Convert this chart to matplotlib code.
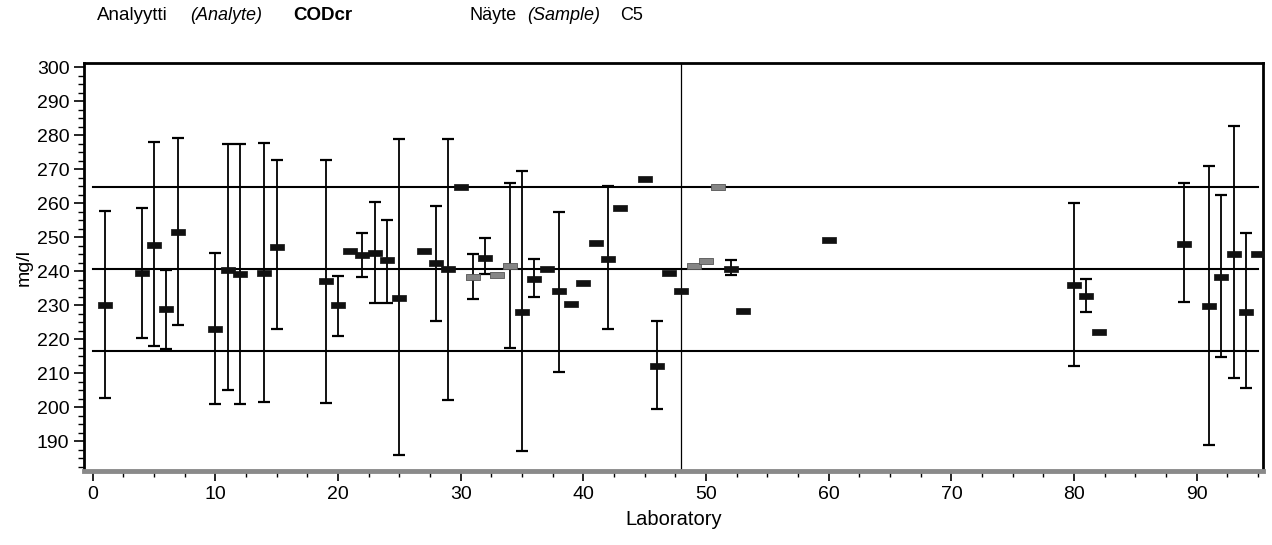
import numpy as np
import matplotlib
matplotlib.use("Agg")
import matplotlib.pyplot as plt
from matplotlib.ticker import MultipleLocator

plt.rcParams.update({"font.family": ["Liberation Sans", "DejaVu Sans"], "font.size": 14})

NAN = np.nan
# laboratory results (mg/l); NaN = no uncertainty bar
labs = [1, 4, 5, 6, 7, 10, 11, 12, 14, 15, 19, 20, 21, 22, 23, 24, 25, 27, 28, 29,
        30, 31, 32, 33, 34, 35, 36, 37, 38, 39, 40, 41, 42, 43, 45, 46, 47, 48, 49, 50,
        51, 52, 53, 60, 80, 81, 82, 89, 91, 92, 93, 94, 95]
values = [229.9, 239.3, 247.8, 228.9, 251.4, 222.9, 240.4, 239.0, 239.4, 247.2,
          237.0, 229.9, 245.9, 244.6, 245.3, 243.2, 232.2, 245.9, 242.5, 240.5,
          264.7, 238.3, 243.8, 238.9, 241.4, 228.1, 237.6, 240.6, 234.0, 230.4,
          236.5, 248.3, 243.5, 258.5, 267.0, 212.0, 239.3, 234.2, 241.6, 243.0,
          264.8, 240.5, 228.3, 249.2, 235.8, 232.8, 222.0, 248.1, 229.7, 238.4,
          245.1, 227.9, 245.1]
err_low = [202.6, 220.4, 218.1, 217.0, 224.2, 200.8, 205.0, 200.8, 201.4, 223.0,
           201.3, 221.0, NAN, 238.3, 230.6, 230.6, 185.8, NAN, 225.2, 202.1,
           NAN, 231.8, 239.2, NAN, 217.3, 187.0, 232.4, NAN, 210.2, NAN,
           NAN, NAN, 222.9, NAN, NAN, 199.4, NAN, NAN, NAN, NAN,
           NAN, 238.9, NAN, NAN, 212.1, 228.1, NAN, 230.9, 188.8, 214.8,
           208.5, 205.5, NAN]
err_high = [257.6, 258.5, 278.0, 240.2, 279.0, 245.4, 277.3, 277.3, 277.8, 272.6,
            272.6, 238.5, NAN, 251.2, 260.4, 255.0, 278.9, NAN, 259.2, 278.9,
            NAN, 245.0, 249.6, NAN, 265.8, 269.4, 243.6, NAN, 257.3, NAN,
            NAN, NAN, 265.0, NAN, NAN, 225.2, NAN, NAN, NAN, NAN,
            NAN, 243.2, NAN, NAN, 259.9, 237.6, NAN, 265.8, 270.9, 262.5,
            282.7, 251.2, NAN]
gray_labs = [31, 33, 34, 49, 50, 51]

assigned = 240.6
limits = [216.5, 264.7]
split_lab = 48

labs = np.array(labs, float)
values = np.array(values)
err_low = np.array(err_low)
err_high = np.array(err_high)
is_gray = np.isin(labs, gray_labs)

fig = plt.figure(figsize=(12.72, 5.45), dpi=100)
ax = fig.add_axes([84 / 1272, 1 - 471 / 545, (1263 - 84) / 1272, (471 - 63) / 545])

# reference lines
for yv in [assigned] + limits:
    ax.plot([0, 95], [yv, yv], color="black", lw=1.5, zorder=2)
ax.axvline(split_lab, color="black", lw=0.9, zorder=2)

# uncertainty bars
has = ~np.isnan(err_low)
ax.errorbar(labs[has], values[has],
            yerr=[values[has] - err_low[has], err_high[has] - values[has]],
            fmt="none", ecolor="black", elinewidth=1.3, capsize=4.5, capthick=1.6,
            zorder=3)

rect = [(-1, -0.44), (1, -0.44), (1, 0.44), (-1, 0.44), (-1, -0.44)]
ax.plot(labs[~is_gray], values[~is_gray], ls="none", marker=rect, ms=10.5,
        mfc="#111111", mec="#111111", mew=0.5, zorder=4)
ax.plot(labs[is_gray], values[is_gray], ls="none", marker=rect, ms=10.5,
        mfc="#858585", mec="#555555", mew=0.6, zorder=4)

ax.set_xlim(-0.7, 95.4)
ax.set_ylim(181.2, 301.2)
ax.xaxis.set_major_locator(MultipleLocator(10))
ax.xaxis.set_minor_locator(MultipleLocator(2.5))
ax.set_yticks(np.arange(190, 301, 10))
ax.yaxis.set_minor_locator(MultipleLocator(2.5))
ax.tick_params(which="major", length=7, width=1.2)
ax.tick_params(which="minor", length=4, width=1.0)
ax.tick_params(axis="both", labelsize=14)

for s in ["top", "left", "right"]:
    ax.spines[s].set_linewidth(2)
    ax.spines[s].set_color("black")
ax.spines["bottom"].set_linewidth(3.5)
ax.spines["bottom"].set_color("#8a8a8a")

ax.set_xlabel("Laboratory", fontsize=14.5, labelpad=5)
ax.set_ylabel("mg/l", fontsize=14, labelpad=3)

ty = 1 - 16 / 545
fig.text(97 / 1272, ty, "Analyytti", fontsize=13.5, va="center")
fig.text(190 / 1272, ty, "(Analyte)", fontsize=13, style="italic", va="center")
fig.text(293 / 1272, ty, "CODcr", fontsize=13.5, fontweight="bold", va="center")
fig.text(470 / 1272, ty, "Näyte", fontsize=13, va="center")
fig.text(527 / 1272, ty, "(Sample)", fontsize=13, style="italic", va="center")
fig.text(620 / 1272, ty, "C5", fontsize=13, va="center")

fig.savefig("out.png", dpi=100)
